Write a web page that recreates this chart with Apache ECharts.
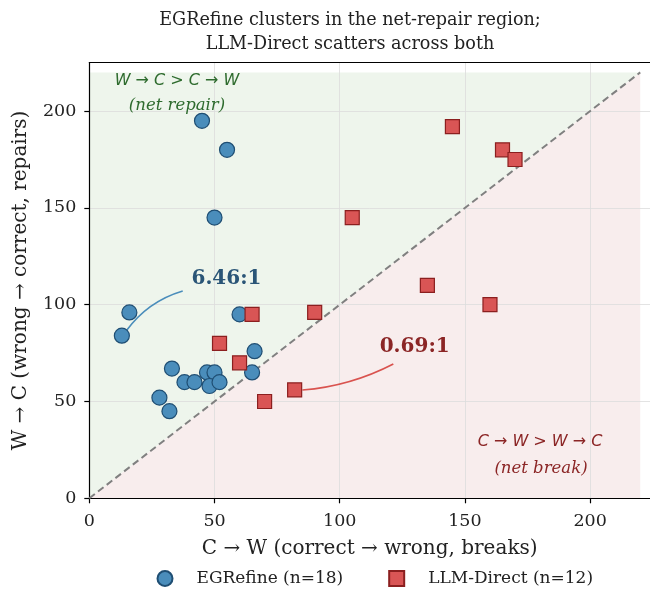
<!DOCTYPE html>
<html><head><meta charset="utf-8">
<script src="https://cdn.jsdelivr.net/npm/echarts@6/dist/echarts.min.js"></script>
<style>html,body{margin:0;padding:0;background:#fff}#c{width:650px;height:589px}</style>
</head><body><div id="c"></div>
<script>
// ---- data ----
const egrefineX = [45, 55, 50, 16, 13, 33, 38, 42, 47, 50, 48, 52, 28, 32, 60, 66, 65];
const egrefineY = [195, 180, 145, 96, 84, 67, 60, 60, 65, 65, 58, 60, 52, 45, 95, 76, 65];
const llmX = [145, 165, 170, 105, 135, 160, 65, 52, 60, 70, 90, 82];
const llmY = [192, 180, 175, 145, 110, 100, 95, 80, 70, 50, 96, 56];
const axisTicks = [0, 50, 100, 150, 200];
const regionLimit = 220;
const xAxisMax = 223.9;
const yAxisMax = 225;
const seriesNames = ['EGRefine (n=18)', 'LLM-Direct (n=12)'];
const ratioLabels = ['6.46:1', '0.69:1'];

const FONT = 'DejaVu Serif';
const zip = (xs, ys) => xs.map((x, i) => [x, ys[i]]);

function polygonSeries(points, color) {
  return {
    type: 'custom', coordinateSystem: 'cartesian2d', silent: true, z: -1,
    data: [[0, 0]],
    renderItem: (params, api) => ({
      type: 'polygon',
      shape: { points: points.map(p => api.coord(p)) },
      style: { fill: color }
    })
  };
}
function curveSeries(start, end, rad, color) {
  return {
    type: 'custom', coordinateSystem: 'cartesian2d', silent: true, z: 4,
    data: [[0, 0]],
    renderItem: (params, api) => {
      const a = api.coord(start), b = api.coord(end);
      const mx = (a[0] + b[0]) / 2, my = (a[1] + b[1]) / 2;
      const dx = b[0] - a[0], dy = b[1] - a[1];
      return {
        type: 'bezierCurve',
        shape: { x1: a[0], y1: a[1], x2: b[0], y2: b[1], cpx1: mx + rad * dy, cpy1: my - rad * dx },
        style: { stroke: color, lineWidth: 1.6, fill: null }
      };
    }
  };
}

const chart = echarts.init(document.getElementById('c'), null, { renderer: 'canvas' });
const axisCommon = {
  type: 'value', min: 0, interval: 50,
  axisLine: { show: true, onZero: false, lineStyle: { color: '#000', width: 1.2 } },
  axisTick: { show: true, inside: false, length: 5, customValues: axisTicks, lineStyle: { color: '#000', width: 1.2 } },
  axisLabel: { color: '#222', fontFamily: FONT, fontSize: 17.5, customValues: axisTicks },
  splitLine: { show: true, lineStyle: { color: '#dcdcdc', width: 0.8 } },
  nameLocation: 'middle',
  nameTextStyle: { color: '#222', fontFamily: FONT, fontSize: 20 }
};

chart.setOption({
  animation: false,
  backgroundColor: '#fff',
  title: {
    text: 'EGRefine clusters in the net-repair region;\nLLM-Direct scatters across both',
    left: 345, top: 3, textAlign: 'center',
    textStyle: { fontFamily: FONT, fontSize: 17.6, fontWeight: 'normal', color: '#222', lineHeight: 24 }
  },
  grid: { left: 89.3, top: 62.7, right: 0, bottom: 90.7, show: false },
  xAxis: [
    Object.assign({}, axisCommon, { max: xAxisMax, name: 'C → W (correct → wrong, breaks)', nameGap: 40,
      axisLabel: Object.assign({}, axisCommon.axisLabel, { margin: 14 }) }),
    { type: 'value', position: 'top', min: 0, max: xAxisMax, interval: 50,
      axisLine: { show: true, onZero: false, lineStyle: { color: '#000', width: 1.2 } },
      axisTick: { show: false }, axisLabel: { show: false }, splitLine: { show: false } }
  ],
  yAxis: Object.assign({}, axisCommon, { max: yAxisMax, name: 'W → C (wrong → correct, repairs)', nameGap: 59,
    axisLabel: Object.assign({}, axisCommon.axisLabel, { margin: 13 }) }),
  legend: {
    top: 565, left: 151.5,
    itemWidth: 15, itemHeight: 15, itemGap: 45,
    data: [
      { name: seriesNames[0], icon: 'circle' },
      { name: seriesNames[1], icon: 'rect' }
    ],
    textStyle: { fontFamily: FONT, fontSize: 17, color: '#222', padding: [0, 0, 0, 19] }
  },
  series: [
    polygonSeries([[0, 0], [0, regionLimit], [regionLimit, regionLimit]], '#eef5ec'),
    polygonSeries([[0, 0], [regionLimit, 0], [regionLimit, regionLimit]], '#f8eded'),
    {
      type: 'line', data: [[0, 0], [regionLimit, regionLimit]], symbol: 'none', silent: true, z: 1,
      lineStyle: { color: '#808080', width: 2, type: [7, 4] }
    },
    curveSeries([37.3, 107.1], [14.7, 86.4], -0.17, '#4a8dbb'),
    curveSeries([121.4, 69.4], [85.1, 55.9], 0.1, '#d9534f'),
    {
      name: seriesNames[0], type: 'scatter', symbol: 'circle', symbolSize: 15, z: 5,
      data: zip(egrefineX, egrefineY),
      itemStyle: { color: '#4a8dbb', borderColor: '#1f4e73', borderWidth: 1.2, opacity: 1 }
    },
    {
      name: seriesNames[1], type: 'scatter', symbol: 'rect', symbolSize: 14, z: 5,
      data: zip(llmX, llmY),
      itemStyle: { color: '#d95555', borderColor: '#8b1f1f', borderWidth: 1.2, opacity: 1 }
    }
  ],
  graphic: [
    { type: 'text', x: 177, y: 81, z: 10,
      style: { text: 'W → C > C → W', fontFamily: 'DejaVu Sans', fontStyle: 'italic', fontSize: 16,
        fill: '#2e6b2e', align: 'center', verticalAlign: 'middle' } },
    { type: 'text', x: 177, y: 106, z: 10,
      style: { text: '(net repair)', fontFamily: FONT, fontStyle: 'italic', fontSize: 16.5,
        fill: '#2e6b2e', align: 'center', verticalAlign: 'middle' } },
    { type: 'text', x: 540, y: 442, z: 10,
      style: { text: 'C → W > W → C', fontFamily: 'DejaVu Sans', fontStyle: 'italic', fontSize: 16,
        fill: '#8b2525', align: 'center', verticalAlign: 'middle' } },
    { type: 'text', x: 541, y: 469, z: 10,
      style: { text: '(net break)', fontFamily: FONT, fontStyle: 'italic', fontSize: 16.5,
        fill: '#8b2525', align: 'center', verticalAlign: 'middle' } },
    { type: 'text', x: 226.5, y: 279, z: 10,
      style: { text: ratioLabels[0], fontFamily: FONT, fontWeight: 'bold', fontSize: 20,
        fill: '#2a5577', align: 'center', verticalAlign: 'middle' } },
    { type: 'text', x: 414.7, y: 347, z: 10,
      style: { text: ratioLabels[1], fontFamily: FONT, fontWeight: 'bold', fontSize: 20,
        fill: '#8b2525', align: 'center', verticalAlign: 'middle' } }
  ]
});
</script></body></html>
